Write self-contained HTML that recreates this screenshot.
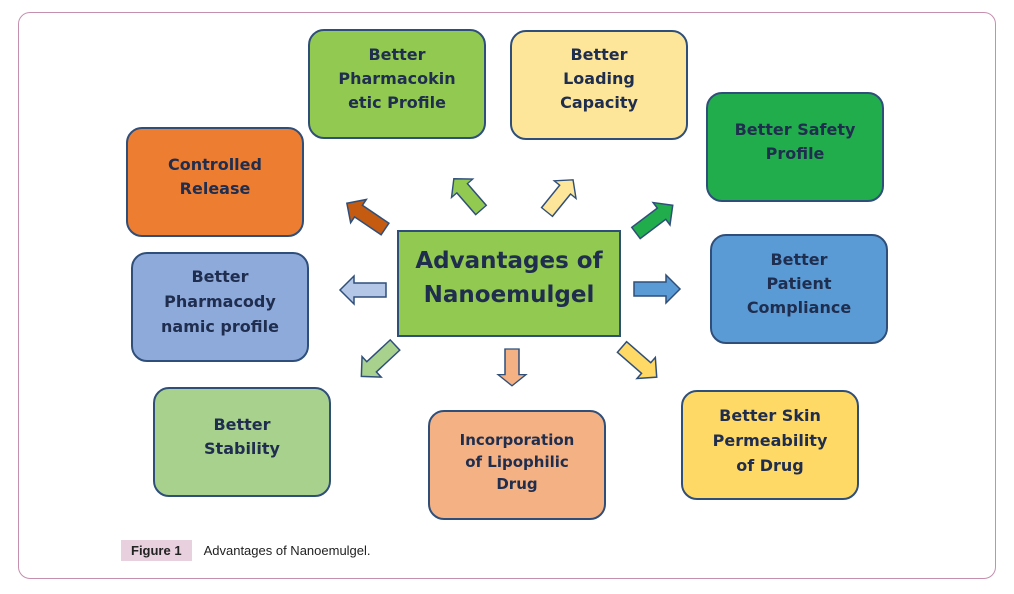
<!DOCTYPE html>
<html><head><meta charset="utf-8"><style>
body{margin:0;width:1014px;height:594px;background:#fff;position:relative;overflow:hidden;font-family:"DejaVu Sans","Liberation Sans",sans-serif;}
.frame{position:absolute;left:18px;top:12px;width:976px;height:565px;border:1.5px solid #c58fae;border-radius:12px;}
.b{position:absolute;width:178px;height:110px;border:2px solid #2f4f7a;border-radius:16px;box-sizing:border-box;color:#1f2d4e;font-weight:bold;font-size:16px;line-height:24px;text-align:center;}
.c{position:absolute;left:397px;top:230px;width:224px;height:107px;background:#92c950;border:2px solid #2f4f7a;box-sizing:border-box;color:#1f2d4e;font-weight:bold;font-size:23px;line-height:34px;text-align:center;padding-top:12px;}
.cap{position:absolute;left:121px;top:543px;font-family:"Liberation Sans",sans-serif;font-size:13px;color:#222;}
.cap b{background:#e8d0de;padding:3px 10px;margin-right:12px;}
</style></head><body>
<div class="frame"></div>
<div class="b" style="left:308px;top:29px;background:#92c950;padding-top:12px">Better<br>Pharmacokin<br>etic Profile</div>
<div class="b" style="left:510px;top:30px;background:#fde699;padding-top:11px">Better<br>Loading<br>Capacity</div>
<div class="b" style="left:706px;top:92px;background:#21ad4b;padding-top:24px">Better Safety<br>Profile</div>
<div class="b" style="left:126px;top:127px;background:#ed7d31;padding-top:24px">Controlled<br>Release</div>
<div class="b" style="left:131px;top:252px;background:#8eaadb;padding-top:10px;line-height:25px">Better<br>Pharmacody<br>namic profile</div>
<div class="b" style="left:710px;top:234px;background:#5b9bd5;padding-top:12px">Better<br>Patient<br>Compliance</div>
<div class="b" style="left:153px;top:387px;background:#a9d18e;padding-top:24px">Better<br>Stability</div>
<div class="b" style="left:428px;top:410px;background:#f4b183;padding-top:17px;font-size:15px;line-height:22px">Incorporation<br>of Lipophilic<br>Drug</div>
<div class="b" style="left:681px;top:390px;background:#ffd966;padding-top:11px;line-height:25px">Better Skin<br>Permeability<br>of Drug</div>
<div class="c">Advantages of<br>Nanoemulgel</div>
<svg style="position:absolute;left:0;top:0" width="1014" height="594">
<defs><polygon id="a" points="0,-7 32,-7 32,-14 46,0 32,14 32,7 0,7" stroke="#2f4f7a" stroke-width="1.5"/></defs>
<use href="#a" fill="#b4c7e7" transform="translate(386,290) rotate(180)"/>
<use href="#a" fill="#5b9bd5" transform="translate(634,289)"/>
<use href="#a" fill="#f4b183" transform="translate(512,349) rotate(90) scale(0.8,1)"/>
<use href="#a" fill="#92c950" transform="translate(481,210) rotate(-131) scale(0.9,1)"/>
<use href="#a" fill="#fde699" transform="translate(547,212) rotate(-51) scale(0.9,1)"/>
<use href="#a" fill="#c55a11" transform="translate(385,229) rotate(-146)"/>
<use href="#a" fill="#21ad4b" transform="translate(636,233) rotate(-37)"/>
<use href="#a" fill="#a9d18e" transform="translate(395,345) rotate(137)"/>
<use href="#a" fill="#ffd966" transform="translate(622,347) rotate(41)"/>
</svg>
<div class="cap"><b>Figure 1</b>Advantages of Nanoemulgel.</div>
</body></html>
